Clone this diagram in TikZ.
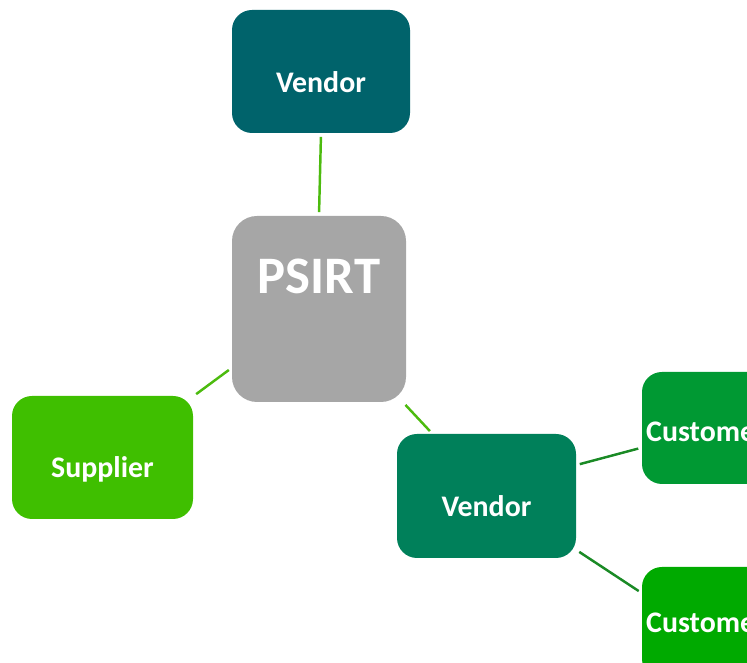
\documentclass[tikz,border=0pt]{standalone}
\usepackage{fontspec}
\setmainfont{Carlito}
\definecolor{vendor teal}{HTML}{00636B}
\definecolor{psirt gray}{HTML}{A6A6A6}
\definecolor{supplier green}{HTML}{3FBF00}
\definecolor{vendor green}{HTML}{00805A}
\definecolor{customer green}{HTML}{009933}
\definecolor{customer lime}{HTML}{00AA00}
\definecolor{link light}{HTML}{4CBB0E}
\definecolor{link dark}{HTML}{1A8A25}

\begin{document}
\begin{tikzpicture} [
    box/.style = {rectangle, rounded corners=0.4cm, inner sep=0pt, text=white,
        font=\bfseries\fontsize{17}{20}\selectfont, text depth=0pt},
    link/.style = {line width=1.4pt, shorten <=2pt, shorten >=2pt}
]
    \useasboundingbox (0,0) rectangle (14.94,-13.26);

    % text height pushes the label below the box centre
    \node[box, fill=vendor teal, minimum width=3.56cm, minimum height=2.46cm,
        text height=24pt] (vendor top) at (6.42,-1.43) {Vendor};
    \node[box, fill=psirt gray, rounded corners=0.5cm, minimum width=3.48cm,
        minimum height=3.72cm, font=\bfseries\fontsize{30}{36}\selectfont,
        text height=18.9pt, text depth=36.4pt] (psirt) at (6.38,-6.18) {PSIRT};
    \node[box, fill=supplier green, minimum width=3.62cm, minimum height=2.46cm,
        text height=22.5pt] (supplier) at (2.05,-9.15) {Supplier};
    \node[box, fill=vendor green, minimum width=3.58cm, minimum height=2.48cm,
        text height=23pt] (vendor) at (9.73,-9.92) {Vendor};
    \node[box, fill=customer green, minimum width=2.56cm, minimum height=2.24cm,
        text height=15.3pt] (customer a) at (14.12,-8.56) {Customer};
    \node[box, fill=customer lime, minimum width=2.56cm, minimum height=2.24cm,
        text height=10.7pt] (customer b) at (14.12,-12.46) {Customer};

    \draw[link, link light] (vendor top.south) -- (psirt.north);
    \draw[link, link light] (psirt.214.6) -- (supplier.34.9);
    \draw[link, link light] (psirt.-48.5) -- (vendor.131.4);
    \draw[link, link dark] (vendor.19.3) -- (customer a.197);
    \draw[link, link dark] (vendor.-31.5) -- (customer b.155);
\end{tikzpicture}
\end{document}
